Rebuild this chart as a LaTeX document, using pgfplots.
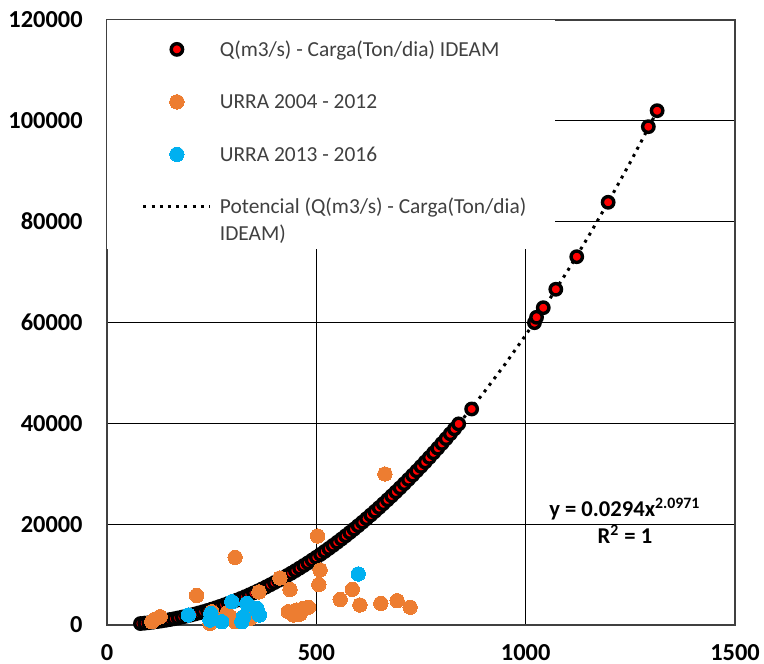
\documentclass[border=0pt]{standalone}
\usepackage{fontspec}
\setmainfont{Carlito}
\usepackage{pgfplots}
\usepackage{pgfplotstable}
\pgfplotsset{compat=1.18}
\definecolor{xlorange}{HTML}{ED7D31}
\definecolor{xlblue}{HTML}{00B0F0}
\definecolor{xlred}{HTML}{FF0000}
\pgfplotsset{
  markleg/.style={legend image code/.code={\path[draw=none,fill=none] (0bp,3.5bp) rectangle (39bp,3.5bp);\draw[mark repeat=2,mark phase=2,##1] plot coordinates {(5.5bp,3.5bp) (22.25bp,3.5bp) (39bp,3.5bp)};}},
  lineleg/.style={legend image code/.code={\path[draw=none,fill=none] (0bp,-17.5bp) rectangle (39bp,3.5bp);\draw[##1] (5.5bp,3.5bp) -- (39bp,3.5bp);}},
}

\pgfplotstableread{
x y
80 288
90 369
100 460
110 562
120 674
130 798
140 931
150 1077
160 1232
170 1400
180 1577
190 1767
200 1967
210 2180
220 2402
230 2638
240 2883
250 3140
260 3410
270 3691
280 3984
290 4288
300 4604
310 4931
320 5271
330 5622
340 5986
350 6361
360 6748
370 7147
380 7558
390 7981
400 8416
410 8864
420 9323
430 9795
440 10279
450 10775
460 11283
470 11803
480 12336
490 12881
500 13439
510 14009
520 14591
530 15186
540 15793
550 16412
560 17044
570 17689
580 18346
590 19015
600 19697
610 20392
620 21100
630 21820
640 22552
650 23298
660 24056
670 24827
680 25610
690 26406
700 27215
710 28037
720 28871
730 29719
740 30579
750 31452
760 32338
770 33236
780 34147
790 35072
800 36010
810 36960
820 37923
830 38899
840 39889
871 42844
1021 59961
1026 61032
1042 62937
1072 66586
1122 73052
1197 83843
1293 98838
1314 102011
}\ideam

\pgfplotstableread{
x y
664 29950
503 17650
306 13430
509 10910
506 8030
437 7040
413 9320
363 6550
214 5850
586 7080
557 5060
604 3970
654 4300
693 4820
724 3530
433 2640
453 2980
469 3310
481 3510
445 1980
461 2180
107 650
127 1650
115 1190
250 2640
270 990
294 1650
286 2320
318 1190
306 650
342 1330
246 330
302 990
334 1330
}\urraA

\pgfplotstableread{
x y
194 1980
246 990
274 650
298 4620
326 1650
334 4300
358 3310
364 1980
248 2320
600 10120
322 650
358 2980
}\urraB

\pgfplotstableread{
x y
80 288
100 460
150 1076
200 1967
250 3140
300 4604
350 6361
400 8416
450 10775
500 13439
550 16412
600 19697
650 23298
700 27215
750 31452
800 36010
850 40892
900 46098
950 51633
1000 57497
1050 63692
1100 70220
1150 77079
1200 84276
1250 91808
1300 99678
1314 101942
}\trend

\begin{document}
\begin{tikzpicture}
\path[use as bounding box] (-53.5bp,-19.5bp) rectangle (328.5bp,312.5bp);
\begin{axis}[
  scale only axis, width=314bp, height=302.5bp,
  xmin=0, xmax=1500, ymin=0, ymax=120000,
  xtick={0,500,1000,1500},
  ytick={0,20000,40000,60000,80000,100000,120000},
  grid=major,
  major grid style={black, line width=0.5bp},
  axis line style={black!75, line width=0.75bp},
  major tick length=0pt,
  scaled ticks=false,
  clip=false,
  /pgf/number format/fixed,
  /pgf/number format/precision=0,
  /pgf/number format/set thousands separator={},
  /pgf/number format/assume math mode=true,
  ticklabel style={font=\fontsize{12.2bp}{13bp}\selectfont\bfseries, text=black},
  xticklabel style={anchor=north, inner sep=0pt, yshift=-9.5bp},
  yticklabel style={anchor=east, inner sep=0pt, xshift=-12bp},
  legend style={at={(0,1)}, anchor=north west, draw=none, fill=white,
    inner xsep=12.5bp, inner ysep=0pt,
    font=\fontsize{10.7bp}{13.3bp}\selectfont, text=black!75,
    row sep=11.75bp,
    cells={anchor=base west, inner sep=0pt,
      execute at begin node={\rule[-3bp]{0pt}{12bp}}},
    /tikz/every odd column/.append style={column sep=2bp}},
]
\addplot[only marks, mark=*, mark size=2.85bp,
  mark options={fill=xlred, draw=black, line width=1.7bp}, markleg]
  table[x=x,y=y] {\ideam};
\addlegendentry{\rule{0pt}{16bp}Q(m3/s) - Carga(Ton/dia) IDEAM}
\addplot[only marks, mark=*, mark size=3.6bp, color=xlorange,
  mark options={fill=xlorange, draw=xlorange, line width=0pt}, markleg]
  table[x=x,y=y] {\urraA};
\addlegendentry{URRA 2004 - 2012}
\addplot[only marks, mark=*, mark size=3.6bp, color=xlblue,
  mark options={fill=xlblue, draw=xlblue, line width=0pt}, markleg]
  table[x=x,y=y] {\urraB};
\addlegendentry{URRA 2013 - 2016}
\addplot[no marks, black, line width=1.5bp, dash pattern=on 1.5bp off 2.6bp, lineleg]
  table[x=x,y=y] {\trend};
\addlegendentry{\vtop{\hbox{Potencial (Q(m3/s) - Carga(Ton/dia)}\hbox{IDEAM)}}}
\node[font=\fontsize{11.3bp}{13.3bp}\selectfont\bfseries, align=center, text=black]
  at (axis cs:1237,20630) {y = 0.0294x\textsuperscript{2.0971}\\R\textsuperscript{2} = 1};
\end{axis}
\end{tikzpicture}
\end{document}
